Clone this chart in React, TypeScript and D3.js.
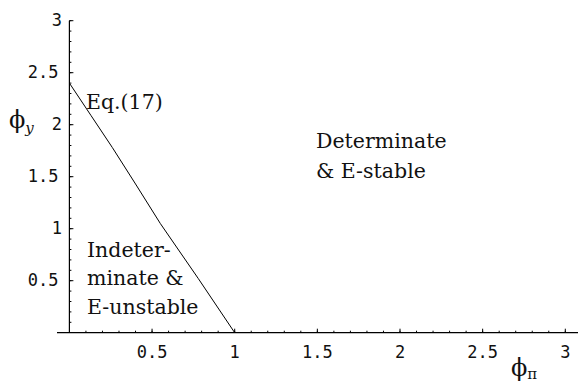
import React from 'react';
import * as d3 from 'd3';

// boundary curve, Eq.(17)
const phiPi = [0, 0.13, 0.26, 0.4, 0.55, 0.78, 1];
const phiY = [2.4, 2.09, 1.78, 1.43, 1.05, 0.52, 0];

const xTicks = [0.5, 1, 1.5, 2, 2.5, 3];
const xTickLabels = ['0.5', '1', '1.5', '2', '2.5', '3'];
const yTicks = [0.5, 1, 1.5, 2, 2.5, 3];
const yTickLabels = ['0.5', '1', '1.5', '2', '2.5', '3'];
const minorTicks = d3.range(1, 31).map(d => d / 10);

const upperLabel = ['Determinate', '& E-stable'];
const lowerLabel = ['Indeter-', 'minate &', 'E-unstable'];
const curveLabel = 'Eq.(17)';

const width = 578;
const height = 391;

const x = d3.scaleLinear().domain([0, 3]).range([69.4, 565.3]);
const y = d3.scaleLinear().domain([0, 3]).range([332.7, 20.7]);

const monoFont = 'DejaVu Sans Mono';
const serifFont = 'DejaVu Serif';

const App = () => {
  const line = d3.line<number>().x(d => x(d)).y((d, i) => y(phiY[i]));
  const x0 = x(0);
  const y0 = y(0);

  const multi = (lines: string[], px: number, py: number, step: number) => (
    <text x={px} y={py} fontSize={20.5} fill="#111" fontFamily={serifFont}>
      {lines.map((s, i) => (
        <tspan key={s} x={px} y={py + i * step}>{s}</tspan>
      ))}
    </text>
  );

  return (
    <svg width={width} height={height} style={{ position: 'absolute', left: 0, top: 0 }}>
      {/* minor ticks */}
      {minorTicks.map(d => (
        <line key={'mx' + d} x1={x(d)} x2={x(d)} y1={y0} y2={y0 - 2} stroke="#000" />
      ))}
      {minorTicks.map(d => (
        <line key={'my' + d} x1={x0} x2={x0 + 2} y1={y(d)} y2={y(d)} stroke="#000" />
      ))}
      {/* major ticks and labels */}
      {xTicks.map((d, i) => (
        <g key={'x' + d}>
          <line x1={x(d)} x2={x(d)} y1={y0} y2={y0 - 4} stroke="#000" />
          <text x={x(d)} y={y0 + 13.5} dy="0.71em" textAnchor="middle" fontSize={17} fill="#111"
            fontFamily={monoFont}>{xTickLabels[i]}</text>
        </g>
      ))}
      {yTicks.map((d, i) => (
        <g key={'y' + d}>
          <line x1={x0} x2={x0 + 4} y1={y(d)} y2={y(d)} stroke="#000" />
          <text x={x0 - 11 + (yTickLabels[i].includes('.') ? 0 : 3.5)} y={y(d)} dy="0.32em" textAnchor="end"
            fontSize={17} fill="#111" fontFamily={monoFont}>{yTickLabels[i]}</text>
        </g>
      ))}
      {/* axes */}
      <line x1={x(-0.075)} x2={width} y1={y0} y2={y0} stroke="#000" strokeWidth={1.2} />
      <line x1={x0} x2={x0} y1={y0} y2={y(3)} stroke="#000" strokeWidth={1.2} />

      {/* boundary */}
      <path d={line(phiPi) || ''} fill="none" stroke="#000" strokeWidth={1} />

      {multi([curveLabel], 86, 109, 0)}
      {multi(upperLabel, 316, 148, 30)}
      {multi(lowerLabel, 87, 257, 28.3)}

      {/* axis titles */}
      <text x={9} y={128} fill="#111" fontFamily={serifFont}>
        <tspan fontSize={24}>{'\u03D5'}</tspan>
        <tspan dy={5} fontSize={15} fontStyle="italic">y</tspan>
      </text>
      <text x={511} y={376} fill="#111" fontFamily={serifFont}>
        <tspan fontSize={24}>{'\u03D5'}</tspan>
        <tspan dy={3} fontSize={15}>{'\u03C0'}</tspan>
      </text>
    </svg>
  );
};

export default App;
